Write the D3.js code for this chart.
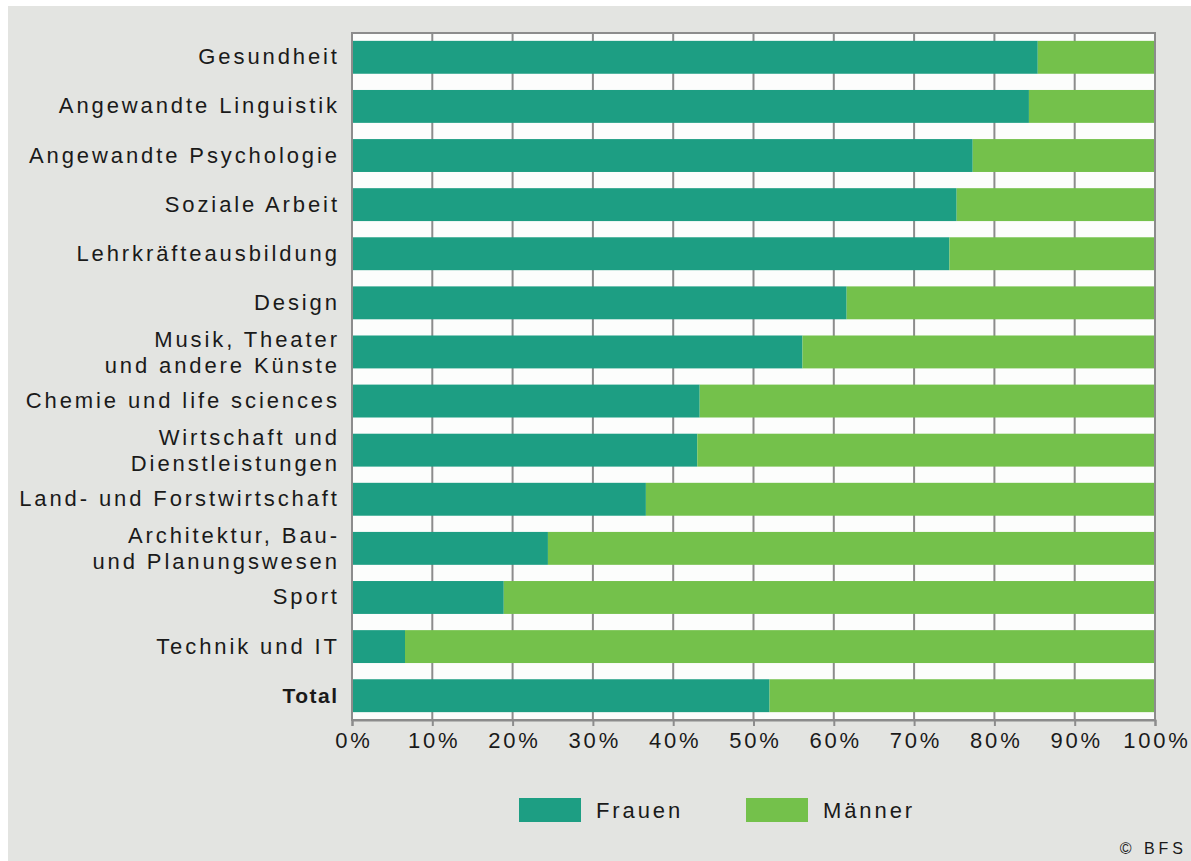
<!DOCTYPE html>
<html><head><meta charset="utf-8">
<script src="https://cdn.jsdelivr.net/npm/d3@7"></script>
<style>
html,body{margin:0;padding:0;background:#fff;}
svg{display:block;}
text{font-family:"Liberation Sans",Arial,sans-serif;fill:#1a1a1a;}
</style></head>
<body>
<svg id="chart" width="1191" height="861"></svg>
<script>
const categories = [
  "Gesundheit",
  "Angewandte Linguistik",
  "Angewandte Psychologie",
  "Soziale Arbeit",
  "Lehrkräfteausbildung",
  "Design",
  "Musik, Theater\nund andere Künste",
  "Chemie und life sciences",
  "Wirtschaft und\nDienstleistungen",
  "Land- und Forstwirtschaft",
  "Architektur, Bau-\nund Planungswesen",
  "Sport",
  "Technik und IT",
  "Total"
];
const frauen = [85.4, 84.3, 77.3, 75.3, 74.4, 61.6, 56.1, 43.3, 43.0, 36.6, 24.4, 18.9, 6.6, 52.0];
const maenner = frauen.map(v => 100 - v);
const tickValues = [0, 10, 20, 30, 40, 50, 60, 70, 80, 90, 100];
const seriesNames = ["Frauen", "Männer"];
const seriesColors = ["#1d9e83", "#74c14b"];

const svg = d3.select("#chart");
const W = 1191, H = 861;
const plot = {left: 352, right: 1155, top: 33, bottom: 720};

// panel background
svg.append("rect").attr("x", 8).attr("y", 6).attr("width", W - 8).attr("height", H - 6).attr("fill", "#e3e4e1");

const x = d3.scaleLinear().domain([0, 100]).range([plot.left, plot.right]);
const y = d3.scaleBand().domain(categories).range([plot.top, plot.bottom]).paddingInner(0.33).paddingOuter(0.16);

// plot area
svg.append("rect").attr("x", plot.left).attr("y", plot.top)
  .attr("width", plot.right - plot.left).attr("height", plot.bottom - plot.top)
  .attr("fill", "#fcfdfc");

// gridlines
svg.append("g").selectAll("line").data(tickValues).join("line")
  .attr("x1", d => x(d)).attr("x2", d => x(d))
  .attr("y1", plot.top).attr("y2", plot.bottom)
  .attr("stroke", "#8c8c8c").attr("stroke-width", 2);

// stacked bars
const rows = categories.map((c, i) => ({cat: c, Frauen: frauen[i], "Männer": maenner[i]}));
const stack = d3.stack().keys(seriesNames)(rows);
svg.append("g").selectAll("g").data(stack).join("g")
  .attr("fill", (d, i) => seriesColors[i])
  .selectAll("rect").data(d => d).join("rect")
  .attr("x", d => x(d[0]))
  .attr("width", d => x(d[1]) - x(d[0]))
  .attr("y", d => y(d.data.cat))
  .attr("height", y.bandwidth());

// plot border
svg.append("rect").attr("x", plot.left).attr("y", plot.top)
  .attr("width", plot.right - plot.left).attr("height", plot.bottom - plot.top)
  .attr("fill", "none").attr("stroke", "#8c8c8c").attr("stroke-width", 2);

// x axis
const xAxis = d3.axisBottom(x).tickValues(tickValues).tickFormat(d => d + "%").tickSize(6).tickPadding(6);
const gx = svg.append("g").attr("transform", `translate(0,${plot.bottom})`).call(xAxis);
gx.select(".domain").attr("stroke", "#8c8c8c").attr("stroke-width", 2);
gx.selectAll(".tick line").attr("stroke", "#8c8c8c").attr("stroke-width", 2);
gx.selectAll(".tick text").attr("font-size", 22).attr("letter-spacing", "2.8px")
  .attr("fill", "#1a1a1a").attr("font-family", "Liberation Sans, Arial, sans-serif")
  .attr("dx", "1.4px").attr("y", 12).attr("dy", "0.71em");

// y labels
const ls = 2.9;
const yl = svg.append("g");
categories.forEach((c, i) => {
  const lines = c.split("\n");
  const cy = y(c) + y.bandwidth() / 2;
  const t = yl.append("text")
    .attr("text-anchor", "end")
    .attr("font-size", 22)
    .attr("letter-spacing", ls + "px")
    .attr("font-weight", c === "Total" ? "bold" : "normal");
  if (c === "Total") t.attr("letter-spacing", "1.5px").attr("font-size", 21);
  lines.forEach((ln, j) => {
    const base = lines.length === 1 ? cy + 7 : cy - 5 + j * 26;
    t.append("tspan").attr("x", 337 + (c === "Total" ? 1.5 : ls)).attr("y", base).text(ln);
  });
});

// legend
const leg = svg.append("g");
const legX = [519, 746];
seriesNames.forEach((s, i) => {
  leg.append("rect").attr("x", legX[i]).attr("y", 798).attr("width", 62).attr("height", 24)
    .attr("fill", seriesColors[i]);
  leg.append("text").attr("x", legX[i] + 77).attr("y", 818)
    .attr("font-size", 22).attr("letter-spacing", "2.9px").text(s);
});

// source
svg.append("text").attr("x", 1187).attr("y", 854).attr("text-anchor", "end")
  .attr("font-size", 16).attr("letter-spacing", "4px").text("© BFS");
</script>
</body></html>
